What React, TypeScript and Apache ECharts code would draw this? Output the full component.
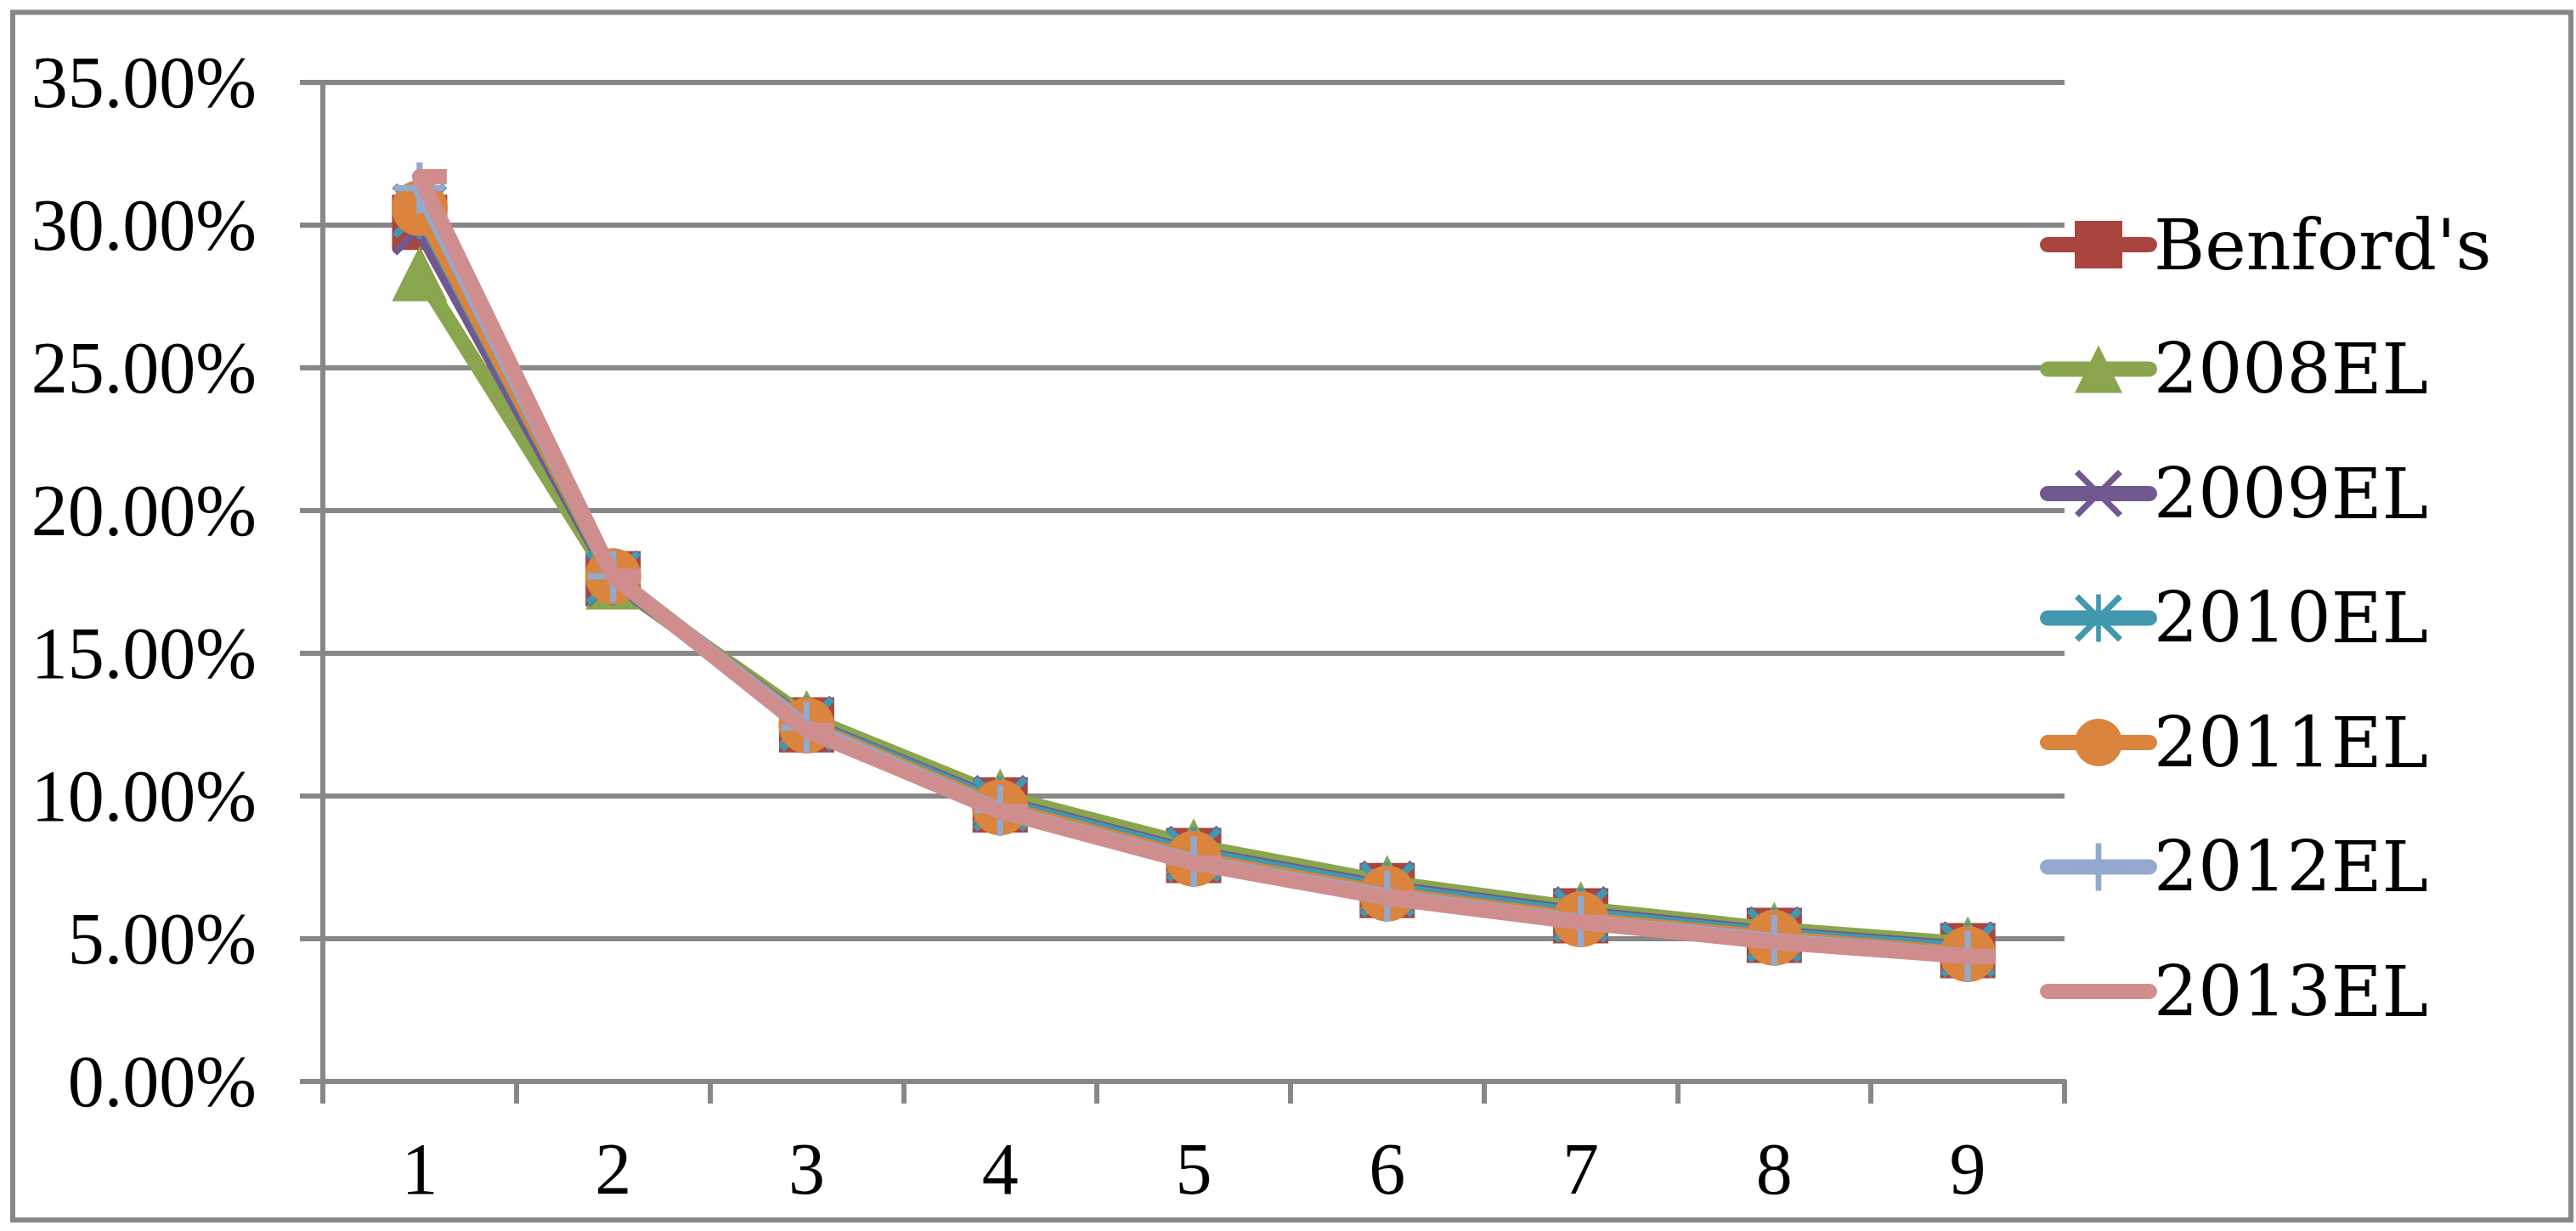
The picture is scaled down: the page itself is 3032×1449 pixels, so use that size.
import React, { useEffect, useRef } from 'react';
import * as echarts from 'echarts';

const categories = ['1', '2', '3', '4', '5', '6', '7', '8', '9'];
const seriesNames = ["Benford's", '2008EL', '2009EL', '2010EL', '2011EL', '2012EL', '2013EL'];
const benford = [30.1, 17.61, 12.49, 9.69, 7.92, 6.69, 5.8, 5.12, 4.58];
const el2008 = [28.3, 17.5, 12.75, 10.0, 8.25, 6.97, 6.05, 5.33, 4.82];
const el2009 = [29.9, 17.6, 12.55, 9.78, 8.0, 6.78, 5.88, 5.17, 4.65];
const el2010 = [30.5, 17.65, 12.52, 9.72, 7.95, 6.72, 5.82, 5.12, 4.6];
const el2011 = [30.6, 17.7, 12.47, 9.6, 7.8, 6.58, 5.68, 5.03, 4.46];
const el2012 = [31.3, 17.7, 12.4, 9.5, 7.7, 6.49, 5.6, 4.94, 4.4];
const el2013 = [31.7, 17.7, 12.3, 9.46, 7.65, 6.43, 5.57, 4.88, 4.38];
const yTicks = { min: 0, max: 35, interval: 5 };

const GRAY = '#878787';
const FONT = 'Liberation Serif';
const LEGEND_FONT = 'DejaVu Serif';

const X_PATH = 'path://M0,9 L9,0 L50,41 L91,0 L100,9 L59,50 L100,91 L91,100 L50,59 L9,100 L0,91 L41,50 Z';
const STAR_PATH =
  'path://M0,9 L9,0 L50,41 L91,0 L100,9 L59,50 L100,91 L91,100 L50,59 L9,100 L0,91 L41,50 Z M45,0 L55,0 L55,100 L45,100 Z';
const PLUS_PATH =
  'path://M44,0 L56,0 L56,44 L100,44 L100,56 L56,56 L56,100 L44,100 L44,56 L0,56 L0,44 L44,44 Z';

function mk(name: string, data: number[], color: string, symbol: string, size: any, z: number, extra: any = {}) {
  return {
    name,
    type: 'line',
    data,
    z,
    symbol,
    symbolSize: size,
    showSymbol: true,
    lineStyle: { color, width: 18, cap: 'round', join: 'round' },
    itemStyle: { color, borderWidth: 0 },
    emphasis: { disabled: true },
    ...extra,
  };
}

export default function App() {
  const ref = useRef<HTMLDivElement>(null);
  useEffect(() => {
    const chart = echarts.init(ref.current!, null, { renderer: 'svg', width: 3032, height: 1449 });
    const option: any = {
      animation: false,
      backgroundColor: '#ffffff',
      grid: { left: 380, top: 97, width: 2050, height: 1176, containLabel: false },
      xAxis: {
        type: 'category',
        data: categories,
        boundaryGap: true,
        axisLine: { show: true, lineStyle: { color: GRAY, width: 6 } },
        axisTick: { show: true, length: 26, lineStyle: { color: GRAY, width: 6 } },
        axisLabel: { fontFamily: FONT, fontSize: 86, color: '#000', margin: 60 },
        splitLine: { show: false },
      },
      yAxis: {
        type: 'value',
        min: yTicks.min,
        max: yTicks.max,
        interval: yTicks.interval,
        axisLine: { show: true, lineStyle: { color: GRAY, width: 6 } },
        axisTick: { show: true, length: 27, lineStyle: { color: GRAY, width: 6 } },
        splitLine: { show: true, lineStyle: { color: GRAY, width: 6 } },
        axisLabel: {
          fontFamily: FONT,
          fontSize: 86,
          color: '#000',
          margin: 78,
          formatter: (v: number) => v.toFixed(2) + '%',
        },
      },
      legend: {
        orient: 'vertical',
        left: 2396,
        top: 242,
        itemWidth: 120,
        itemHeight: 70,
        itemGap: 64.5,
        selectedMode: false,
        textStyle: { fontFamily: LEGEND_FONT, fontSize: 82, color: '#000' },
        lineStyle: { width: 18 },
        data: [
          seriesNames[0],
          seriesNames[1],
          seriesNames[2],
          seriesNames[3],
          seriesNames[4],
          seriesNames[5],
          { name: seriesNames[6], itemStyle: { opacity: 0 } },
        ],
      },
      graphic: [
        {
          type: 'rect',
          shape: { x: 15, y: 14.5, width: 3011, height: 1421.5 },
          style: { fill: 'none', stroke: GRAY, lineWidth: 6 },
          silent: true,
        },
      ],
      series: [
        mk(seriesNames[0], benford, '#A9443F', 'rect', 65, 2),
        mk(seriesNames[1], el2008, '#89A54E', 'triangle', 65, 3),
        mk(seriesNames[2], el2009, '#71588F', X_PATH, 65, 4),
        mk(seriesNames[3], el2010, '#4198AF', STAR_PATH, 65, 5),
        mk(seriesNames[4], el2011, '#DB843D', 'circle', 66, 6),
        mk(seriesNames[5], el2012, '#93A9CF', PLUS_PATH, 60, 7),
        mk(seriesNames[6], el2013, '#CF8E8D', 'rect', [32, 18], 8, { symbolOffset: [16, 0] }),
      ],
    };
    chart.setOption(option);
    return () => chart.dispose();
  }, []);
  return (
    <div
      ref={ref}
      style={{ position: 'fixed', left: 0, top: 0, width: 3032, height: 1449, background: '#fff' }}
    />
  );
}
